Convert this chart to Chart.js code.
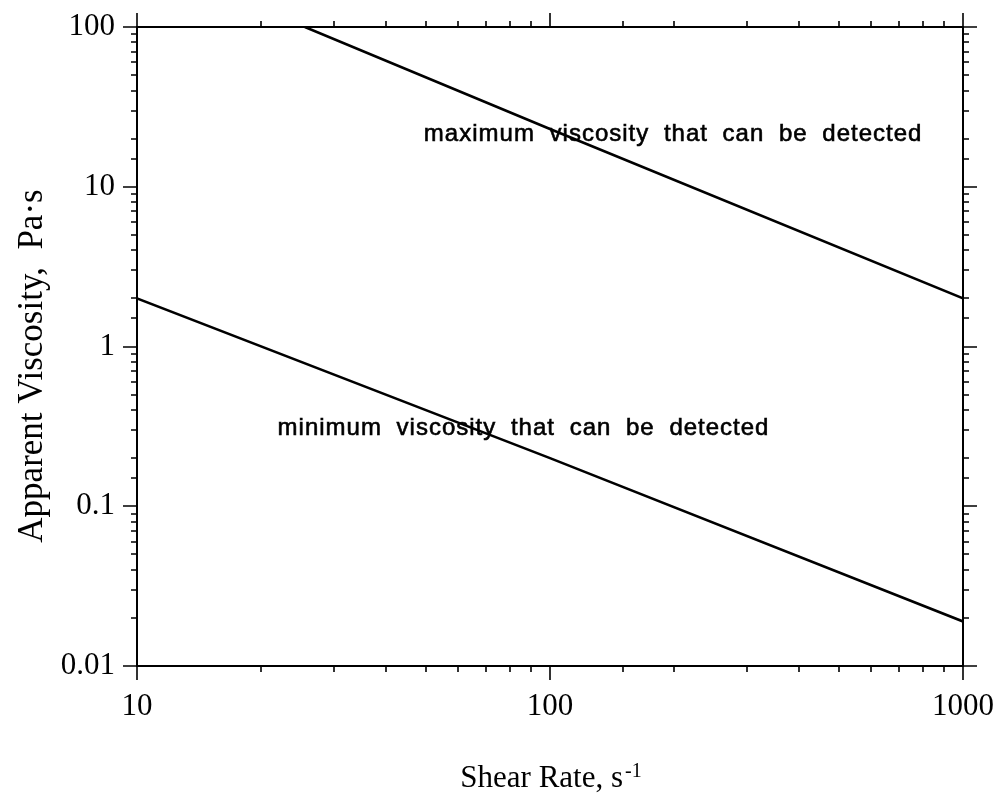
<!DOCTYPE html>
<html>
<head>
<meta charset="utf-8">
<title>Apparent viscosity detection limits</title>
<script src="https://cdn.jsdelivr.net/npm/chart.js@4/dist/chart.umd.min.js"></script>
<style>
    html, body { margin: 0; padding: 0; background: #fff; }
    #wrap { width: 1003px; height: 805px; position: relative; }
</style>
</head>
<body>
<div id="wrap"><canvas id="viscChart"></canvas></div>
<script>
// shear rate (s-1) and apparent viscosity (Pa·s)
const maxShear = [25.5, 100, 1000]
const maxViscosity = [100, 23, 2]
const minShear = [10, 100, 1000]
const minViscosity = [2, 0.2, 0.019]

const xRange = [10, 1000]
const yRange = [0.01, 100]
const xTickLabels = ['10', '100', '1000']
const yTickLabels = ['0.01', '0.1', '1', '10', '100']

const xTitle = 'Shear Rate, s'
const xTitleSup = '-1'
const yTitle = 'Apparent Viscosity,  Pa\u00b7s'

// text notes, anchored at [shear, viscosity] of the left/middle of the text
const notes = [
    { text: 'maximum viscosity that can be detected', at: [49.5, 21.4] },
    { text: 'minimum viscosity that can be detected', at: [21.9, 0.307] },
]

const serif = "'Liberation Serif', 'DejaVu Serif', serif"
const sans = "'Liberation Sans', Arial, sans-serif"

const isDecade = (v) => Math.abs(Math.log10(v) - Math.round(Math.log10(v))) < 1e-6

const toPoints = (xs, ys) => xs.map((x, i) => ({ x: x, y: ys[i] }))

const framePlugin = {
    id: 'frame',
    afterDraw(chart) {
        const ctx = chart.ctx
        const area = chart.chartArea
        const xs = chart.scales.x
        const ys = chart.scales.y
        const minorLen = 6
        const majorLen = 14

        ctx.save()
        ctx.strokeStyle = '#000'
        ctx.lineWidth = 2
        ctx.strokeRect(area.left, area.top, area.right - area.left, area.bottom - area.top)

        ctx.lineWidth = 1.6
        ctx.beginPath()
        xs.ticks.forEach((t) => {
            const px = Math.round(xs.getPixelForValue(t.value))
            const len = isDecade(t.value) ? majorLen : minorLen
            ctx.moveTo(px, area.bottom)
            ctx.lineTo(px, area.bottom + len)
            ctx.moveTo(px, area.top)
            ctx.lineTo(px, area.top - len)
        })
        ys.ticks.forEach((t) => {
            const py = Math.round(ys.getPixelForValue(t.value))
            const len = isDecade(t.value) ? majorLen : minorLen
            ctx.moveTo(area.left, py)
            ctx.lineTo(area.left - len, py)
            ctx.moveTo(area.right, py)
            ctx.lineTo(area.right + len, py)
        })
        ctx.stroke()

        // tick labels
        ctx.fillStyle = '#000'
        ctx.font = `31px ${serif}`
        ctx.textAlign = 'center'
        ctx.textBaseline = 'alphabetic'
        xTickLabels.forEach((lab) => {
            ctx.fillText(lab, xs.getPixelForValue(Number(lab)), 715)
        })
        ctx.textAlign = 'right'
        ctx.textBaseline = 'middle'
        yTickLabels.forEach((lab) => {
            ctx.fillText(lab, 115, ys.getPixelForValue(Number(lab)))
        })

        // x title with superscript
        ctx.textBaseline = 'alphabetic'
        ctx.textAlign = 'left'
        ctx.font = `31px ${serif}`
        const mainW = ctx.measureText(xTitle).width
        ctx.font = `20px ${serif}`
        const supW = ctx.measureText(xTitleSup).width
        const startX = 550 - (mainW + supW) / 2
        ctx.font = `31px ${serif}`
        ctx.fillText(xTitle, startX, 787)
        ctx.font = `20px ${serif}`
        ctx.fillText(xTitleSup, startX + mainW + 2, 777)

        // y title
        ctx.save()
        ctx.translate(42, 366)
        ctx.rotate(-Math.PI / 2)
        ctx.font = `35px ${serif}`
        ctx.textAlign = 'center'
        ctx.fillText(yTitle, 0, 0)
        ctx.restore()

        // notes
        ctx.font = `24px ${sans}`
        ctx.letterSpacing = '1px'
        ctx.wordSpacing = '7px'
        ctx.textAlign = 'left'
        ctx.textBaseline = 'middle'
        ctx.lineWidth = 0.6
        notes.forEach((n) => {
            const px = xs.getPixelForValue(n.at[0])
            const py = ys.getPixelForValue(n.at[1])
            ctx.fillText(n.text, px, py)
            ctx.strokeText(n.text, px, py)
        })
        ctx.restore()
    },
}

const ctx = document.getElementById('viscChart').getContext('2d')
const chart = new Chart(ctx, {
    type: 'line',
    data: {
        datasets: [
            {
                label: 'maximum viscosity',
                data: toPoints(maxShear, maxViscosity),
                borderColor: '#000',
                borderWidth: 2.6,
                pointRadius: 0,
                fill: false,
            },
            {
                label: 'minimum viscosity',
                data: toPoints(minShear, minViscosity),
                borderColor: '#000',
                borderWidth: 2.6,
                pointRadius: 0,
                fill: false,
            },
        ],
    },
    options: {
        responsive: true,
        maintainAspectRatio: false,
        animation: false,
        layout: { padding: { top: 27, right: 40, left: 0, bottom: 0 } },
        plugins: {
            legend: { display: false },
            tooltip: { enabled: false },
        },
        scales: {
            x: {
                type: 'logarithmic',
                min: xRange[0],
                max: xRange[1],
                grid: { display: false },
                border: { display: false },
                ticks: { display: false, autoSkip: false },
                afterFit: (s) => { s.height = 139 },
            },
            y: {
                type: 'logarithmic',
                min: yRange[0],
                max: yRange[1],
                grid: { display: false },
                border: { display: false },
                ticks: { display: false, autoSkip: false },
                afterFit: (s) => { s.width = 137 },
            },
        },
    },
    plugins: [framePlugin],
})
</script>
</body>
</html>
